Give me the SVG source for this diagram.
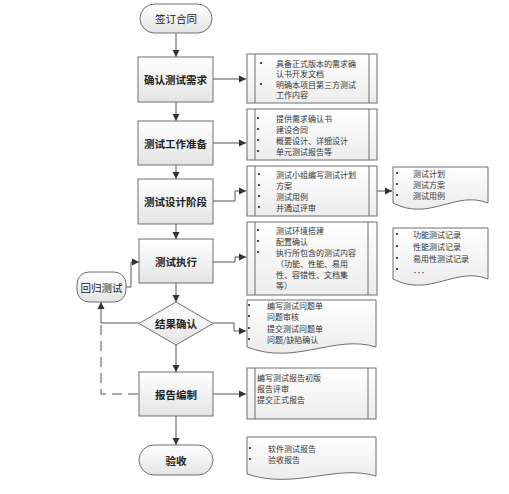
<svg xmlns="http://www.w3.org/2000/svg" width="509" height="494" viewBox="0 0 509 494">
<defs>
<linearGradient id="g" x1="0" y1="0" x2="0" y2="1"><stop offset="0" stop-color="#ffffff"/><stop offset="1" stop-color="#e4e4e4"/></linearGradient>
<linearGradient id="gd" x1="0" y1="0" x2="0" y2="1"><stop offset="0" stop-color="#ffffff"/><stop offset="1" stop-color="#ececec"/></linearGradient>
<marker id="ah" markerWidth="8" markerHeight="8" refX="7" refY="4" orient="auto" markerUnits="userSpaceOnUse"><path d="M0,0.5 L7,4 L0,7.5 Z" fill="#333"/></marker>
</defs>
<style>
.shape{fill:url(#g);stroke:#6f6f6f;stroke-width:1}
.det{fill:url(#gd);stroke:#6f6f6f;stroke-width:1}
.in{stroke:#6f6f6f;stroke-width:1;fill:none}
.main{font-family:"Noto Sans CJK SC","Noto Sans",sans-serif;font-size:10.5px;font-weight:bold;fill:#222;text-anchor:middle;dominant-baseline:central}
.t{font-family:"Noto Sans CJK SC","Noto Sans",sans-serif;font-size:8px;fill:#333;dominant-baseline:central}
.b{fill:#222}
.c{fill:none;stroke:#555;stroke-width:1;marker-end:url(#ah)}
.cn{fill:none;stroke:#555;stroke-width:1}
.dash{fill:none;stroke:#555;stroke-width:1;stroke-dasharray:10,6}
</style>
<rect width="509" height="494" fill="#fff"/>

<g id="connectors">
<path class="c" d="M176,33 V57"/>
<path class="c" d="M213,79 H246"/>
<path class="c" d="M176,102 V121"/>
<path class="c" d="M213,143 H246"/>
<path class="c" d="M176,165 V179"/>
<path class="c" d="M213,201 H235 V191 H246"/>
<path class="c" d="M377,191 H392"/>
<path class="c" d="M176,224 V239"/>
<path class="c" d="M213,262 H235 V257 H246"/>
<path class="c" d="M126,287 H131 V262 H139"/>
<path class="c" d="M176,283 V302"/>
<path class="c" d="M139,323 H101 V302"/>
<path class="c" d="M213,323 H234 V331 H246"/>
<path class="c" d="M176,345 V372"/>
<path class="dash" d="M101,325 V394 H139"/>
<path class="c" d="M213,394 H246"/>
<path class="c" d="M176,416 V445"/>
</g>

<g id="n_sign"><rect class="shape" x="140" y="4" width="72" height="29" rx="14.5"/><text class="main" x="176" y="18.5" style="font-weight:normal">签订合同</text></g>

<g id="n_req"><rect class="shape" x="138" y="57" width="75" height="45"/><text class="main" x="175.5" y="79.5">确认测试需求</text></g>
<g id="d_req"><rect class="det" x="247" y="54" width="130" height="49"/><path class="in" d="M255,54 V103 M369,54 V103"/>
<circle class="b" cx="261" cy="63" r="1.1"/><circle class="b" cx="261" cy="84" r="1.1"/>
<text class="t" x="276" y="63">具备正式版本的需求确</text><text class="t" x="276" y="73.5">认书开发文档</text><text class="t" x="276" y="84">明确本项目第三方测试</text><text class="t" x="276" y="94.5">工作内容</text></g>

<g id="n_prep"><rect class="shape" x="138" y="121" width="75" height="44"/><text class="main" x="175.5" y="143">测试工作准备</text></g>
<g id="d_prep"><rect class="det" x="247" y="109" width="130" height="51"/><path class="in" d="M255,109 V160 M369,109 V160"/>
<circle class="b" cx="258" cy="118" r="1.1"/><circle class="b" cx="258" cy="129" r="1.1"/><circle class="b" cx="258" cy="140" r="1.1"/><circle class="b" cx="258" cy="151" r="1.1"/>
<text class="t" x="276" y="118">提供需求确认书</text><text class="t" x="276" y="129">建设合同</text><text class="t" x="276" y="140">概要设计、详细设计</text><text class="t" x="276" y="151">单元测试报告等</text></g>

<g id="n_design"><rect class="shape" x="138" y="179" width="75" height="45"/><text class="main" x="175.5" y="201">测试设计阶段</text></g>
<g id="d_design"><rect class="det" x="247" y="166" width="130" height="50"/><path class="in" d="M255,166 V216 M369,166 V216"/>
<circle class="b" cx="259" cy="174" r="1.1"/><circle class="b" cx="259" cy="185" r="1.1"/><circle class="b" cx="259" cy="196" r="1.1"/><circle class="b" cx="259" cy="207" r="1.1"/>
<text class="t" x="276" y="174">测试小组编写测试计划</text><text class="t" x="276" y="185">方案</text><text class="t" x="276" y="196">测试用例</text><text class="t" x="276" y="207">并通过评审</text></g>
<g id="doc_design"><path class="det" d="M393,167 H488 V203 C455,190 430,222 393,203 Z"/>
<circle class="b" cx="397" cy="173" r="1.1"/><circle class="b" cx="397" cy="184" r="1.1"/><circle class="b" cx="397" cy="195" r="1.1"/>
<text class="t" x="413" y="173">测试计划</text><text class="t" x="413" y="184">测试方案</text><text class="t" x="413" y="195">测试用例</text></g>

<g id="n_exec"><rect class="shape" x="139" y="239" width="74" height="44"/><text class="main" x="176" y="261">测试执行</text></g>
<g id="d_exec"><rect class="det" x="247" y="222" width="130" height="73"/><path class="in" d="M255,222 V295 M368,222 V295"/>
<circle class="b" cx="258" cy="230" r="1.1"/><circle class="b" cx="258" cy="241" r="1.1"/><circle class="b" cx="258" cy="252" r="1.1"/>
<text class="t" x="276" y="230">测试环境搭建</text><text class="t" x="276" y="241">配置确认</text><text class="t" x="276" y="252">执行所包含的测试内容</text><text class="t" x="276" y="263">（功能、性能、易用</text><text class="t" x="276" y="274">性、容错性、文档集</text><text class="t" x="276" y="285">等）</text></g>
<g id="doc_exec"><path class="det" d="M393,228 H488 V279 C455,266 430,298 393,279 Z"/>
<circle class="b" cx="397" cy="234" r="1.1"/><circle class="b" cx="397" cy="246" r="1.1"/><circle class="b" cx="397" cy="258" r="1.1"/><circle class="b" cx="397" cy="269" r="1.1"/>
<text class="t" x="413" y="234">功能测试记录</text><text class="t" x="413" y="246">性能测试记录</text><text class="t" x="413" y="258">易用性测试记录</text><text class="t" x="413" y="269">．．．</text></g>

<g id="n_regress"><rect class="shape" x="77" y="272" width="49" height="30" rx="12"/><text class="main" x="101.5" y="287" style="font-weight:normal">回归测试</text></g>

<g id="n_result"><path class="shape" d="M176,302 L213,323.5 L176,345 L139,323.5 Z"/><text class="main" x="176" y="323.5">结果确认</text></g>
<g id="doc_result"><path class="det" d="M247,300 H376 V347 C335,334 295,366 247,347 Z"/>
<circle class="b" cx="249" cy="305" r="1.1"/><circle class="b" cx="249" cy="316" r="1.1"/><circle class="b" cx="249" cy="328" r="1.1"/><circle class="b" cx="249" cy="339" r="1.1"/>
<text class="t" x="267" y="305">编写测试问题单</text><text class="t" x="267" y="316">问题审核</text><text class="t" x="267" y="328">提交测试问题单</text><text class="t" x="267" y="339">问题/缺陷确认</text></g>

<g id="n_report"><rect class="shape" x="139" y="372" width="74" height="44"/><text class="main" x="176" y="394">报告编制</text></g>
<g id="d_report"><rect class="det" x="247" y="368" width="129" height="51"/><path class="in" d="M255,368 V419 M368,368 V419"/>
<text class="t" x="257" y="377">编写测试报告初版</text><text class="t" x="257" y="388">报告评审</text><text class="t" x="257" y="399">提交正式报告</text></g>

<g id="n_accept"><rect class="shape" x="139" y="445" width="74" height="30" rx="15"/><text class="main" x="176" y="460">验收</text></g>
<g id="doc_accept"><path class="det" d="M247,437 H376 V476 C335,464 295,490 247,474 Z"/>
<circle class="b" cx="250" cy="448" r="1.1"/><circle class="b" cx="250" cy="459" r="1.1"/>
<text class="t" x="268" y="448">软件测试报告</text><text class="t" x="268" y="459">验收报告</text></g>
</svg>
